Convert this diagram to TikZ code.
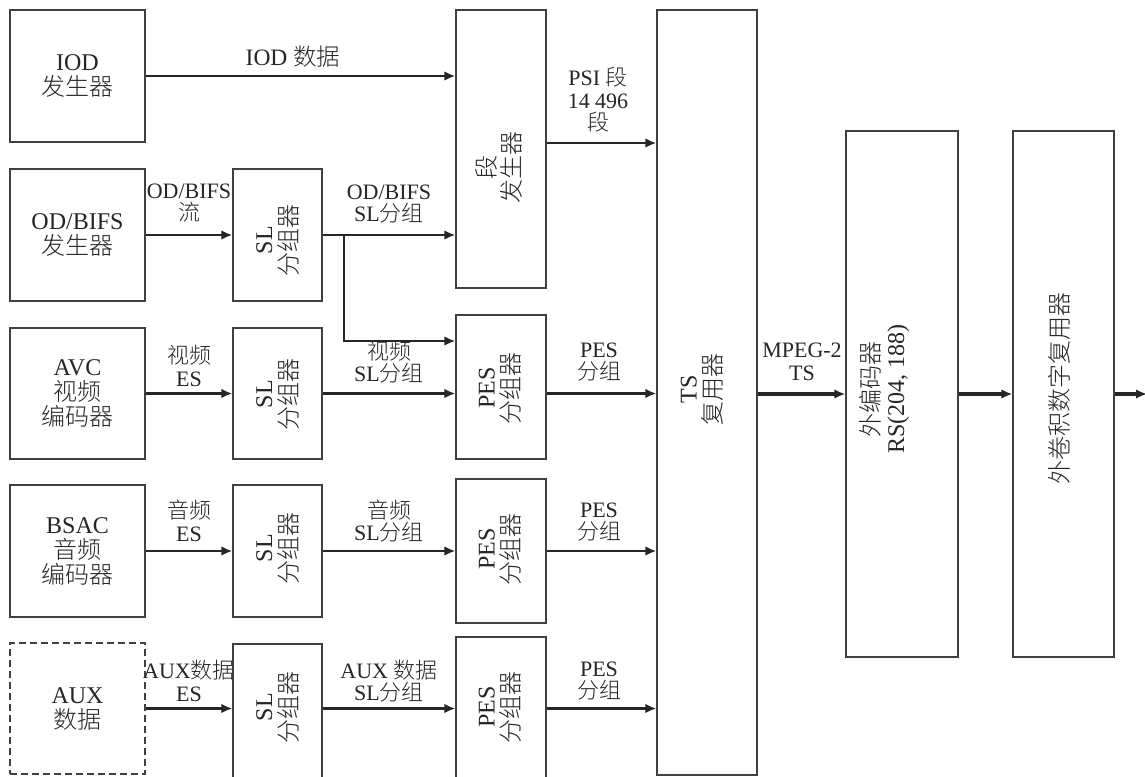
\documentclass[tikz,border=0pt]{standalone}
\usepackage{fontspec}
\setmainfont{Liberation Serif}
\IfFontExistsTF{Noto Sans CJK SC Light}{\newfontfamily\cjkf{Noto Sans CJK SC Light}}{\newfontfamily\cjkf{Noto Sans CJK SC}}
\newcommand\zhs[1]{{\cjkf #1}}
\usetikzlibrary{arrows.meta,calc}
\begin{document}
\begin{tikzpicture}[x=1pt,y=-1pt,
  box/.style={draw=black!75,line width=1.2pt,inner sep=0pt,fill=none},
  btxt/.style={text=black!85,align=center,inner sep=0pt,font=\fontsize{24}{25}\selectfont},
  vtxt/.style={btxt,rotate=90},
  elab/.style={text=black!85,align=center,inner sep=0pt,font=\fontsize{22}{22.5}\selectfont},
  arr/.style={draw=black!85,line width=2.5pt,-{Latex[length=11pt,width=9.5pt]}},
  arrb/.style={arr,line width=3.3pt}]
\useasboundingbox (0,0) rectangle (1145,776);
\fill[white] (0,0) rectangle (1145,776);
% left column
\node[box,btxt,minimum width=135pt,minimum height=132pt] (iod) at (77.5,76) {IOD\\\zhs{发生器}};
\node[box,btxt,minimum width=135pt,minimum height=132pt] (odb) at (77.5,235) {OD/BIFS\\\zhs{发生器}};
\node[box,btxt,minimum width=135pt,minimum height=131pt] (avc) at (77.5,393.5) {AVC\\\zhs{视频}\\\zhs{编码器}};
\node[box,btxt,minimum width=135pt,minimum height=132pt] (bsac) at (77.5,551) {BSAC\\\zhs{音频}\\\zhs{编码器}};
\node[box,btxt,line width=2pt,dash pattern=on 7pt off 4pt,minimum width=135pt,minimum height=131pt] (aux) at (77.5,708.5) {AUX\\\zhs{数据}};
% SL packetizers
\node[box,minimum width=89pt,minimum height=132pt] (sl1) at (277.5,235) {};
\node[box,minimum width=89pt,minimum height=131pt] (sl2) at (277.5,393.5) {};
\node[box,minimum width=89pt,minimum height=132pt] (sl3) at (277.5,551) {};
\node[box,minimum width=89pt,minimum height=141pt] (sl4) at (277.5,714.5) {};
\node[vtxt] (sl1t) at (277.5,240) {SL\\\zhs{分组器}};
\node[vtxt] (sl2t) at (277.5,394) {SL\\\zhs{分组器}};
\node[vtxt] (sl3t) at (277.5,548) {SL\\\zhs{分组器}};
\node[vtxt] (sl4t) at (277.5,707) {SL\\\zhs{分组器}};
% section generator and PES
\node[box,minimum width=90pt,minimum height=278pt] (seg) at (501,149) {};
\node[vtxt] (segt) at (499,167) {\zhs{段}\\\zhs{发生器}};
\node[box,minimum width=90pt,minimum height=144pt] (pes1) at (501,387) {};
\node[box,minimum width=90pt,minimum height=144pt] (pes2) at (501,551) {};
\node[box,minimum width=90pt,minimum height=148pt] (pes3) at (501,711) {};
\node[vtxt] (pes1t) at (500,388) {PES\\\zhs{分组器}};
\node[vtxt] (pes2t) at (500,549) {PES\\\zhs{分组器}};
\node[vtxt] (pes3t) at (500,707) {PES\\\zhs{分组器}};
% TS mux
\node[box,minimum width=100pt,minimum height=765pt] (ts) at (707,392.5) {};
\node[vtxt] (tst) at (702,389) {TS\\\zhs{复用器}};
% outer coder and conv
\node[box,minimum width=112pt,minimum height=526pt] (rs) at (902,394) {};
\node[vtxt] (rst) at (884,389) {\zhs{外编码器}\\RS(204, 188)};
\node[box,minimum width=101pt,minimum height=526pt] (conv) at (1063.5,394) {};
\node[vtxt] (convt) at (1059,388) {\zhs{外卷积数字复用器}};
\coordinate (out) at (1147,394);
% connectors
\draw[arr] (iod.east) -- (iod.east -| seg.west);
\draw[arr] (odb.east) -- (odb.east -| sl1.west);
\draw[arr] (sl1.east) -- (sl1.east -| seg.west);
\coordinate (br) at (344,235);
\coordinate (bk) at (344,341);
\draw[draw=black!85,line width=1.3pt] (br) -- (bk);
\draw[arr] ($(bk)+(-0.6,0)$) -- (bk -| pes1.west);
\draw[arrb] (avc.east) -- (avc.east -| sl2.west);
\draw[arr] (sl2.east) -- (sl2.east -| pes1.west);
\draw[arr] (pes1.east |- sl2.east) -- (ts.west |- sl2.east);
\draw[arr] ($(seg.east)+(0,-6)$) -- ($(seg.east -| ts.west)+(0,-6)$);
\draw[arrb] (ts.east |- rs.west) -- (rs.west);
\draw[arrb] (rs.east) -- (conv.west);
\draw[arrb] (conv.east) -- (out);
\draw[arr] (bsac.east) -- (bsac.east -| sl3.west);
\draw[arr] (sl3.east) -- (sl3.east -| pes2.west);
\draw[arr] (pes2.east) -- (pes2.east -| ts.west);
\draw[arrb] (aux.east) -- (aux.east -| sl4.west);
\draw[arr] (aux.east -| sl4.east) -- (aux.east -| pes3.west);
\draw[arr] (aux.east -| pes3.east) -- (aux.east -| ts.west);
% edge labels
\node[elab,font=\fontsize{23.5}{24}\selectfont] (l1) at (293,57) {IOD \zhs{数据}};
\node[elab] (l2) at (189,203) {OD/BIFS\\\zhs{流}};
\node[elab] (l3) at (389,204) {OD/BIFS\\SL\zhs{分组}};
\node[elab] (l4) at (598,100) {PSI \zhs{段}\\14 496\\\zhs{段}};
\node[elab] (l5) at (189,366) {\zhs{视频}\\ES};
\node[elab] (l6) at (389,362) {\zhs{视频}\\SL\zhs{分组}};
\node[elab] (l7) at (599,362) {PES\\\zhs{分组}};
\node[elab] (l8) at (802,362) {MPEG-2\\TS};
\node[elab] (l9) at (189,521) {\zhs{音频}\\ES};
\node[elab] (l10) at (389,521) {\zhs{音频}\\SL\zhs{分组}};
\node[elab] (l11) at (599,522) {PES\\\zhs{分组}};
\node[elab] (l12) at (189,681) {AUX\zhs{数据}\\ES};
\node[elab] (l13) at (389,681) {AUX \zhs{数据}\\SL\zhs{分组}};
\node[elab] (l14) at (599,681) {PES\\\zhs{分组}};
\end{tikzpicture}
\end{document}
